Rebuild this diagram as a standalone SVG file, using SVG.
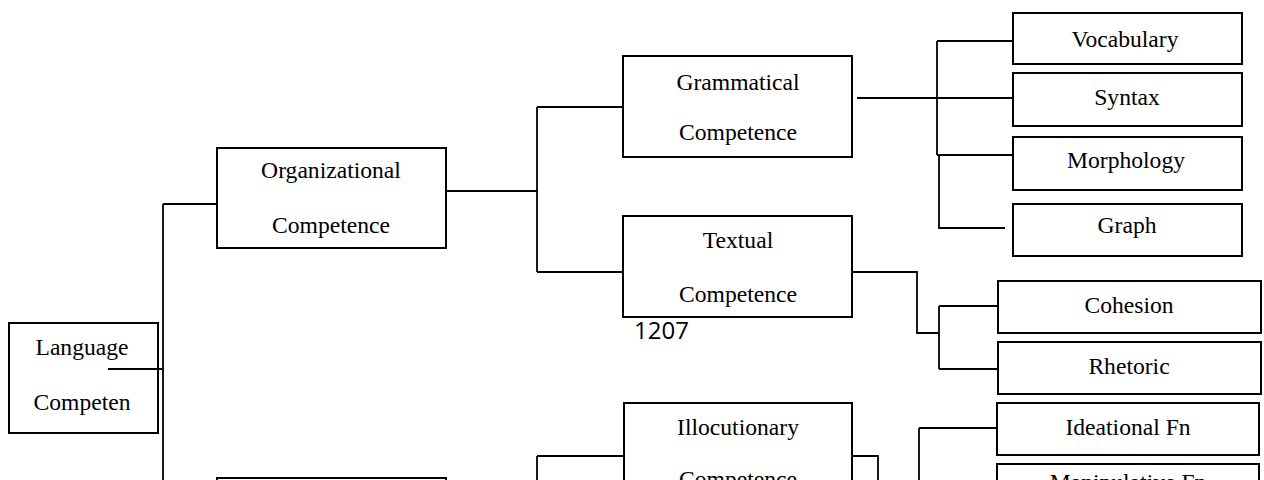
<svg xmlns="http://www.w3.org/2000/svg" width="1264" height="480" viewBox="0 0 1264 480">
<style>
.box{fill:#fff;stroke:#000;stroke-width:2}
.t{font-family:"Liberation Serif","Times New Roman",serif;font-size:23.6px;fill:#000;text-anchor:middle}
.c{fill:none;stroke:#000;stroke-width:1.8}
.pg{font-family:"Open Sans","Liberation Sans",sans-serif;font-size:24px;fill:#000}
</style>
<rect width="1264" height="480" fill="#fff"/>
<g id="language">
<rect class="box" x="9" y="323" width="149" height="110"/>
<text class="t" x="82" y="355">Language</text>
<text class="t" x="82" y="410">Competen</text>
</g>
<g id="organizational">
<rect class="box" x="217" y="148" width="229" height="100"/>
<text class="t" x="331" y="178">Organizational</text>
<text class="t" x="331" y="233">Competence</text>
</g>
<g id="pragmatic">
<rect class="box" x="217" y="478" width="229" height="60"/>
</g>
<g id="grammatical">
<rect class="box" x="623" y="56" width="229" height="101"/>
<text class="t" x="738" y="90">Grammatical</text>
<text class="t" x="738" y="140">Competence</text>
</g>
<g id="textual">
<rect class="box" x="623" y="216" width="229" height="101"/>
<text class="t" x="738" y="248">Textual</text>
<text class="t" x="738" y="302">Competence</text>
</g>
<text id="page-number" class="pg" x="634" y="339">1207</text>
<g id="illocutionary">
<rect class="box" x="624" y="403" width="228" height="100"/>
<text class="t" x="738" y="435">Illocutionary</text>
<text class="t" x="738" y="487">Competence</text>
</g>
<g id="vocabulary">
<rect class="box" x="1013" y="13" width="229" height="51"/>
<text class="t" x="1125" y="47">Vocabulary</text>
</g>
<g id="syntax">
<rect class="box" x="1013" y="73" width="229" height="53"/>
<text class="t" x="1127" y="105">Syntax</text>
</g>
<g id="morphology">
<rect class="box" x="1013" y="137" width="229" height="53"/>
<text class="t" x="1126" y="168">Morphology</text>
</g>
<g id="graph">
<rect class="box" x="1013" y="204" width="229" height="52"/>
<text class="t" x="1127" y="233">Graph</text>
</g>
<g id="cohesion">
<rect class="box" x="998" y="281" width="263" height="52"/>
<text class="t" x="1129" y="313">Cohesion</text>
</g>
<g id="rhetoric">
<rect class="box" x="998" y="342" width="263" height="52"/>
<text class="t" x="1129" y="374">Rhetoric</text>
</g>
<g id="ideational">
<rect class="box" x="997" y="403" width="262" height="52"/>
<text class="t" x="1128" y="435">Ideational Fn</text>
</g>
<g id="manipulative">
<rect class="box" x="997" y="464" width="262" height="52"/>
<text class="t" x="1128" y="490">Manipulative Fn</text>
</g>
<g id="connectors">
<path class="c" d="M108,369 H163 M163,204 V480 M163,204 H217"/>
<path class="c" d="M446,191 H537 M537,107 V272 M537,107 H623 M537,272 H623"/>
<path class="c" d="M537,456 H624 M537,456 V480"/>
<path class="c" d="M857,98 H1013 M937,41 V155 M937,41 H1013 M937,155 H1013 M939,155 V228 H1005"/>
<path class="c" d="M852,272 H917 V333 H939 M939,306 V369 M939,306 H998 M939,369 H998"/>
<path class="c" d="M852,456 H878 V480"/>
<path class="c" d="M919,428 V480 M919,428 H997"/>
</g>
</svg>
